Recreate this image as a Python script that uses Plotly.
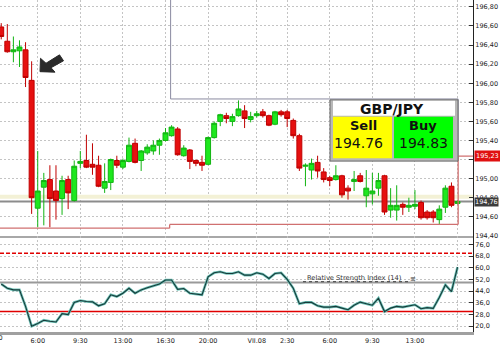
import plotly.graph_objects as go

W, H = 500, 346

# half-hour candles, hours counted from 0:00 of the first day (VII.08 = hour 24)
times = [3.0 + 0.5 * i for i in range(76)]

open_ = [196.59, 196.44, 196.33, 196.34, 196.35, 196.03, 194.69, 194.91, 194.99, 194.87,
         194.79, 194.99, 194.77, 195.16, 195.19, 195.15, 195.14, 194.90, 194.96, 195.19,
         195.12, 195.18, 195.37, 195.19, 195.27, 195.29, 195.35, 195.40, 195.45, 195.52,
         195.24, 195.30, 195.19, 195.17, 195.15, 195.43, 195.60, 195.66, 195.60, 195.66,
         195.71, 195.62, 195.66, 195.70, 195.66, 195.57, 195.70, 195.70, 195.61, 195.45,
         195.13, 195.09, 195.17, 195.07, 195.01, 194.99, 195.03, 194.90, 194.97, 195.03,
         194.82, 194.84, 194.90, 195.03, 194.67, 194.67, 194.73, 194.70, 194.71, 194.75,
         194.65, 194.65, 194.57, 194.70, 194.92, 194.74]
high = [196.63, 196.62, 196.49, 196.45, 196.43, 196.23, 195.29, 195.06, 195.14, 195.14,
        195.03, 195.03, 195.19, 195.29, 195.46, 195.37, 195.24, 195.16, 195.21, 195.24,
        195.21, 195.43, 195.42, 195.30, 195.36, 195.40, 195.42, 195.53, 195.56, 195.54,
        195.35, 195.31, 195.20, 195.24, 195.44, 195.60, 195.68, 195.69, 195.68, 195.82,
        195.77, 195.70, 195.71, 195.73, 195.67, 195.71, 195.72, 195.72, 195.63, 195.47,
        195.16, 195.21, 195.24, 195.11, 195.03, 195.14, 195.04, 194.93, 195.08, 195.06,
        195.09, 195.06, 195.06, 195.04, 194.90, 194.93, 194.75, 194.80, 194.88, 194.77,
        194.67, 194.67, 194.72, 194.93, 194.96, 194.77]
low = [196.46, 196.32, 196.22, 196.17, 195.96, 194.63, 194.49, 194.51, 194.49, 194.57,
       194.62, 194.68, 194.76, 195.11, 195.11, 195.04, 194.91, 194.85, 194.88, 195.11,
       195.10, 195.17, 195.16, 195.08, 195.25, 195.25, 195.25, 195.39, 195.44, 195.24,
       195.23, 195.10, 195.13, 195.08, 195.14, 195.42, 195.55, 195.58, 195.55, 195.65,
       195.53, 195.59, 195.64, 195.64, 195.55, 195.56, 195.65, 195.54, 195.42, 195.08,
       194.92, 194.99, 195.01, 194.96, 194.92, 194.98, 194.80, 194.78, 194.87, 194.96,
       194.70, 194.73, 194.82, 194.62, 194.59, 194.56, 194.62, 194.65, 194.68, 194.57,
       194.57, 194.54, 194.52, 194.64, 194.70, 194.73]
close = [196.49, 196.33, 196.35, 196.38, 196.06, 194.80, 194.87, 194.98, 194.79, 194.77,
         194.98, 194.85, 195.13, 195.18, 195.12, 195.12, 194.92, 194.97, 195.20, 195.14,
         195.19, 195.35, 195.17, 195.29, 195.33, 195.35, 195.40, 195.48, 195.54, 195.25,
         195.32, 195.18, 195.16, 195.14, 195.43, 195.58, 195.67, 195.63, 195.65, 195.73,
         195.63, 195.65, 195.68, 195.66, 195.56, 195.70, 195.67, 195.63, 195.45, 195.11,
         195.14, 195.16, 195.08, 194.99, 194.98, 195.03, 194.83, 194.87, 194.99, 194.97,
         194.90, 194.87, 194.98, 194.65, 194.72, 194.72, 194.70, 194.72, 194.73, 194.59,
         194.59, 194.59, 194.68, 194.90, 194.72, 194.76]
rsi = [48.9, 46.0, 44.9, 44.9, 33.6, 20.0, 21.8, 24.1, 23.4, 22.9,
       28.6, 27.9, 36.3, 37.6, 36.9, 36.7, 34.0, 35.4, 41.5, 40.3,
       42.6, 46.0, 42.6, 44.9, 46.4, 47.6, 48.9, 51.7, 51.7, 45.3,
       45.8, 42.6, 41.9, 41.5, 53.9, 56.6, 57.3, 56.1, 56.1, 57.3,
       55.0, 55.0, 56.6, 55.7, 52.7, 56.1, 56.6, 52.1, 46.0, 35.4,
       36.3, 36.3, 34.0, 33.1, 33.1, 33.6, 32.4, 31.3, 34.4, 36.5,
       35.4, 34.4, 39.2, 30.0, 32.4, 33.6, 33.1, 34.0, 34.7, 32.0,
       32.7, 32.2, 39.7, 48.3, 43.7, 60.5]

price_ticks = [194.40, 194.60, 194.80, 195.00, 195.20, 195.40, 195.60, 195.80,
               196.00, 196.20, 196.40, 196.60, 196.80]
hidden_price_ticks = [195.20]  # covered by the red order flag
price_labels = ["" if v in hidden_price_ticks else f"{v:.2f}".replace(".", ",") for v in price_ticks]
rsi_ticks = [20, 28, 36, 44, 52, 60, 68, 76]
rsi_labels = [f"{v:.1f}".replace(".", ",") for v in rsi_ticks]
time_ticks = [6, 9.5, 13, 16.5, 20, 24, 26.5, 30, 33.5, 37, 40.5]
time_labels = ["6:00", "9:30", "13:00", "16:30", "20:00", "VII.08", "2:30",
               "6:00", "9:30", "13:00", ""]
left_cut_tick, left_cut_label = 2.5, "2:30"

pair = "GBP/JPY"
sell_price, buy_price = "194.76", "194.83"
last_price = 194.76
stop_level = 195.235
stop_label = "195,23"
rsi_upper, rsi_mid, rsi_lower = 70, 50, 30
frame_top, frame_bottom_right, frame_bottom_left = 195.835, 194.52, 194.48
frame_left_x, frame_right_x = 16.92, 40.55

X_RANGE = [2.9, 41.77]
XD = 473 / W
PRICE_RANGE = [194.40, 196.8725]
RSI_RANGE = [15.93, 81.97]
PRICE_DOM = [1 - 238.6 / H, 1.0]
RSI_DOM = [1 - 336 / H, 1 - 238.6 / H]

FONT = "DejaVu Sans"

fig = go.Figure()
fig.add_trace(go.Candlestick(
    x=times, open=open_, high=high, low=low, close=close,
    increasing=dict(line=dict(color="#12b412", width=1), fillcolor="#1ee81e"),
    decreasing=dict(line=dict(color="#c00000", width=1), fillcolor="#e61010"),
    whiskerwidth=0, xaxis="x", yaxis="y", showlegend=False, hoverinfo="skip"))
fig.add_trace(go.Scatter(x=times, y=rsi, mode="lines", xaxis="x2", yaxis="y2",
                         line=dict(color="#6cc2b6", width=2.6), showlegend=False, hoverinfo="skip"))
fig.add_trace(go.Scatter(x=times, y=rsi, mode="lines", xaxis="x2", yaxis="y2",
                         line=dict(color="#173a3a", width=1.1), showlegend=False, hoverinfo="skip"))

grid = dict(showgrid=True, gridcolor="#c4c4c4", gridwidth=1, griddash="2px,2px", zeroline=False)

fig.update_layout(
    width=W, height=H, margin=dict(l=0, r=0, t=0, b=0),
    paper_bgcolor="white", plot_bgcolor="white", showlegend=False,
    boxgap=0.1, boxgroupgap=0.1,
    font=dict(family=FONT, size=6.5, color="#222"),
    xaxis=dict(domain=[0, XD], range=X_RANGE, anchor="y", tickvals=time_ticks,
               showticklabels=False, ticks="", showline=True, linecolor="#a8a8a8",
               linewidth=2, rangeslider=dict(visible=False), **grid),
    xaxis2=dict(domain=[0, XD], range=X_RANGE, anchor="y2", matches="x",
                tickvals=time_ticks, ticktext=time_labels, ticks="",
                tickfont=dict(family=FONT, size=6.5, color="#222"),
                showline=True, linecolor="#a0a0a0", linewidth=3, **grid),
    yaxis=dict(domain=PRICE_DOM, range=PRICE_RANGE, anchor="x", side="right",
               tickvals=price_ticks, ticktext=price_labels, ticks="inside", ticklen=4,
               tickcolor="#333", showline=True, linecolor="#222", linewidth=1,
               tickfont=dict(family=FONT, size=6.5, color="#222"), **grid),
    yaxis2=dict(domain=RSI_DOM, range=RSI_RANGE, anchor="x2", side="right",
                tickvals=rsi_ticks, ticktext=rsi_labels, ticks="inside", ticklen=4,
                tickcolor="#333", showline=True, linecolor="#222", linewidth=1,
                tickfont=dict(family=FONT, size=6.5, color="#222"), **grid),
)

shapes = []
# bid/ask band and last-price line
shapes.append(dict(type="rect", xref="x", yref="y", x0=X_RANGE[0], x1=X_RANGE[1],
                   y0=194.79, y1=194.83, fillcolor="#f3f1d6", line=dict(width=0), layer="between"))
shapes.append(dict(type="line", xref="x", yref="y", x0=X_RANGE[0], x1=X_RANGE[1],
                   y0=last_price, y1=last_price, line=dict(color="#8c8c8c", width=2), layer="between"))
# drawn frame (grey upper part, red lower part)
grey = dict(color="#8a8aa0", width=1)
pink = dict(color="#d07070", width=1.3)
shapes += [
    dict(type="line", xref="x", yref="y", x0=frame_left_x, x1=frame_left_x,
         y0=PRICE_RANGE[1], y1=frame_top, line=grey),
    dict(type="line", xref="x", yref="y", x0=frame_left_x, x1=frame_right_x,
         y0=frame_top, y1=frame_top, line=grey),
    dict(type="line", xref="x", yref="y", x0=frame_right_x, x1=frame_right_x,
         y0=frame_top, y1=stop_level, line=grey),
    dict(type="line", xref="x", yref="y", x0=frame_right_x, x1=X_RANGE[1],
         y0=stop_level, y1=stop_level, line=pink),
    dict(type="line", xref="x", yref="y", x0=frame_right_x, x1=frame_right_x,
         y0=stop_level, y1=frame_bottom_right, line=pink),
    dict(type="line", xref="x", yref="y", x0=frame_right_x, x1=frame_left_x - 0.08,
         y0=frame_bottom_right, y1=frame_bottom_right, line=pink),
    dict(type="line", xref="x", yref="y", x0=frame_left_x - 0.08, x1=frame_left_x - 0.08,
         y0=frame_bottom_right, y1=frame_bottom_left, line=pink),
    dict(type="line", xref="x", yref="y", x0=frame_left_x - 0.08, x1=X_RANGE[0],
         y0=frame_bottom_left, y1=frame_bottom_left, line=pink),
]
# RSI reference lines
shapes += [
    dict(type="line", xref="x2", yref="y2", x0=X_RANGE[0], x1=X_RANGE[1], y0=rsi_upper, y1=rsi_upper,
         line=dict(color="#e00000", width=1.5, dash="4px,2px"), layer="between"),
    dict(type="line", xref="x2", yref="y2", x0=X_RANGE[0], x1=X_RANGE[1], y0=rsi_lower, y1=rsi_lower,
         line=dict(color="#e00000", width=1.5), layer="between"),
    dict(type="line", xref="x2", yref="y2", x0=X_RANGE[0], x1=X_RANGE[1], y0=rsi_mid, y1=rsi_mid,
         line=dict(color="#9a9a9a", width=2), layer="between"),
]


def P(x, y):
    return x / W, 1 - y / H


def rect_px(x0, y0, x1, y1, fill, line=None):
    a, b = P(x0, y0)
    c, d = P(x1, y1)
    return dict(type="rect", xref="paper", yref="paper", x0=a, x1=c, y0=d, y1=b,
                fillcolor=fill, line=line or dict(width=0), layer="above")


# quote widget
shapes += [
    rect_px(330, 101, 458, 163, "#b8b8b8", dict(color="#6a6a6a", width=1)),
    rect_px(333, 102, 455, 117, "#ffffff"),
    rect_px(333, 118, 392, 160, "#ffff00"),
    rect_px(394, 118, 453, 160, "#00ff00"),
]
# underline of RSI label
ux0, uy = P(303, 285)
ux1, _ = P(410, 285)
shapes.append(dict(type="line", xref="paper", yref="paper", x0=ux0, x1=ux1, y0=uy, y1=uy,
                   line=dict(color="#3a3a3a", width=1, dash="dot")))
# arrow pointing to the drop
arrow_pts = [(40, 72.5), (40.5, 59), (46, 64), (59.5, 55.5), (63.5, 61.5), (51, 68.5), (55, 73)]
path = "M " + " L ".join(f"{P(x, y)[0]:.5f},{P(x, y)[1]:.5f}" for x, y in arrow_pts) + " Z"
shapes.append(dict(type="path", xref="paper", yref="paper", path=path,
                   fillcolor="#2a2a2a", line=dict(color="#2a2a2a", width=1)))
fig.update_layout(shapes=shapes)

ann = []


def text_px(x, y, t, size, bold=False, color="#111", xanchor="center"):
    a, b = P(x, y)
    ann.append(dict(x=a, y=b, xref="paper", yref="paper", text=f"<b>{t}</b>" if bold else t,
                    showarrow=False, xanchor=xanchor, yanchor="middle",
                    font=dict(family=FONT, size=size, color=color)))


text_px(392, 110, pair, 14, bold=True)
text_px(363, 126.5, "Sell", 13, bold=True)
text_px(423, 126.5, "Buy", 13, bold=True)
text_px(358, 145, sell_price, 14)
text_px(423, 145, buy_price, 14)
text_px(305, 281.5, "Relative Strength Index (14)", 6.7, color="#333", xanchor="left")
text_px(408, 282, "≡", 7, color="#333", xanchor="left")

# price flags on the right axis
ann.append(dict(x=474 / W, y=stop_level, xref="paper", yref="y", text=stop_label,
                showarrow=False, xanchor="left", yanchor="middle", bgcolor="#e01010",
                borderpad=1, font=dict(family=FONT, size=6.5, color="white")))
ann.append(dict(x=474 / W, y=last_price - 0.01, xref="paper", yref="y",
                text=f"{last_price:.2f}".replace(".", ","),
                showarrow=False, xanchor="left", yanchor="middle", bgcolor="#3c3c3c",
                borderpad=0, font=dict(family=FONT, size=6.5, color="white")))
# partially visible time label at the left edge
lx = (left_cut_tick - X_RANGE[0]) / (X_RANGE[1] - X_RANGE[0]) * XD
ann.append(dict(x=lx, y=1 - 341.5 / H, xref="paper", yref="paper", text=left_cut_label,
                showarrow=False, xanchor="center", yanchor="middle",
                font=dict(family=FONT, size=6.5, color="#222")))
fig.update_layout(annotations=ann)

fig.write_html("out.html")
